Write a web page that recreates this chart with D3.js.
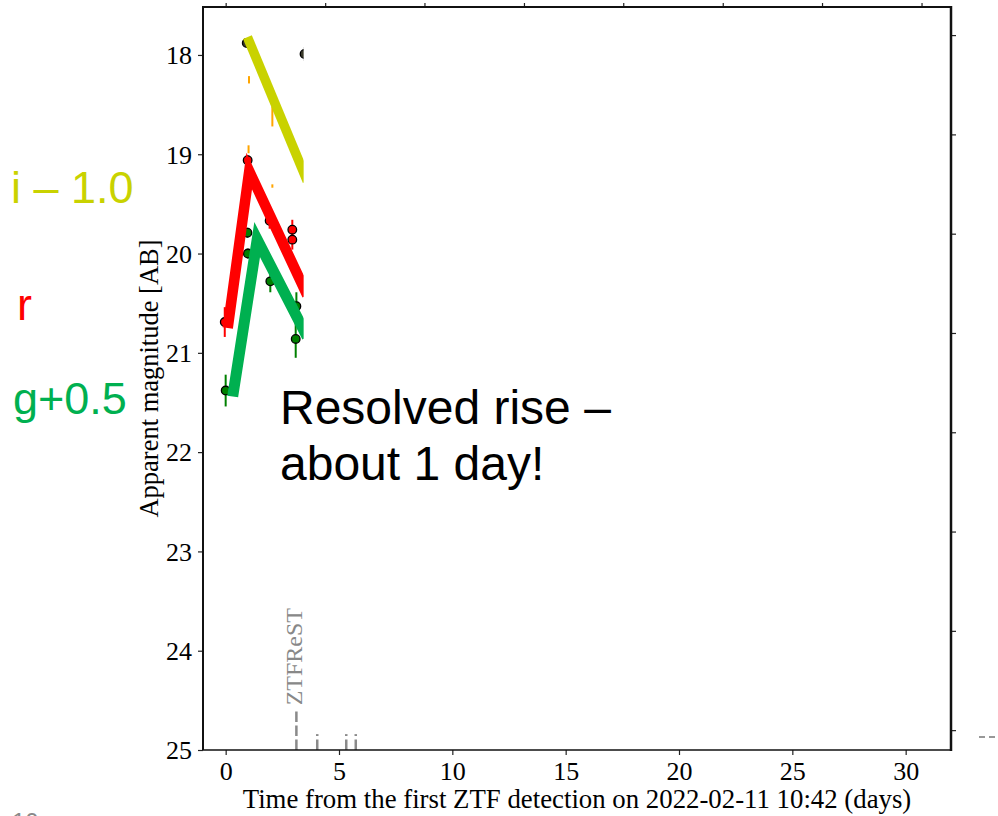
<!DOCTYPE html>
<html>
<head>
<meta charset="utf-8">
<script src="https://cdn.jsdelivr.net/npm/d3@7"></script>
<style>
  html, body { margin: 0; padding: 0; background: #fff; }
  svg { display: block; }
</style>
</head>
<body>
<svg id="chart" width="998" height="816"></svg>
<script>
// ZTF photometry: days since first detection, AB magnitude, 1-sigma error
const gDays = [0.00, 0.96, 0.98, 1.97, 3.12, 3.09];
const gMags = [21.38, 19.79, 20.00, 20.28, 20.53, 20.86];
const gErrs = [0.16, 0.05, 0.05, 0.11, 0.14, 0.19];

const rDays = [-0.04, 0.97, 1.94, 2.94, 2.94, 3.50];
const rMags = [20.69, 19.06, 19.67, 19.76, 19.86, 20.27];
const rErrs = [0.15, 0.05, 0.08, 0.10, 0.10, 0.08];

const iDays = [0.93, 3.48];
const iMags = [17.88, 17.99];
const iErrs = [0.03, 0.07];

// error bars drawn without markers
const oDays = [1.03, 2.06, 1.01, 2.06];
const oMags = [18.25, 18.62, 18.95, 19.32];
const oErrs = [0.037, 0.10, 0.04, 0.017];

// hand-drawn rise / decline guides
const iGuideDays = [0.96, 3.60];
const iGuideMags = [17.82, 19.27];
const rGuideDays = [0.09, 1.04, 3.60];
const rGuideMags = [20.75, 19.17, 20.42];
const gGuideDays = [0.31, 1.39, 3.60];
const gGuideMags = [21.44, 19.86, 20.84];

// follow-up epochs
const epochDays = [3.12, 4.04, 5.32, 5.74];
const epochLabels = ["ZTFReST", "", "", ""];

// axes
const xTicks = [0, 5, 10, 15, 20, 25, 30];
const yTicks = [18, 19, 20, 21, 22, 23, 24, 25];
const topTicks = [0, 4.39, 8.77, 13.16, 17.54, 21.93, 26.31, 30.70];
const rightTicks = [17.8, 18.8, 19.8, 20.8, 21.8, 22.8, 23.8, 24.8];

const COL_I = "#c9d200", COL_R = "#ff0000", COL_G = "#00b050";
const SERIF = "'Liberation Serif', 'Times New Roman', serif";
const SANS = "'Liberation Sans', Arial, sans-serif";

const svg = d3.select("#chart");
const L = 203, R = 951, T = 7, B = 750;

const x = d3.scaleLinear().domain([-1, 32]).range([L, R]);
const y = d3.scaleLinear().domain([17.517, 25]).range([T, B]);

// tick axes
const axL = svg.append("g").attr("transform", `translate(${L},0)`)
  .call(d3.axisLeft(y).tickValues(yTicks).tickSize(5).tickSizeOuter(0).tickPadding(6));
const axB = svg.append("g").attr("transform", `translate(0,${B})`)
  .call(d3.axisBottom(x).tickValues(xTicks).tickSize(5).tickSizeOuter(0).tickPadding(4));
const axT = svg.append("g").attr("transform", `translate(0,${T})`)
  .call(d3.axisTop(x).tickValues(topTicks).tickFormat("").tickSize(4).tickSizeOuter(0));
const axR = svg.append("g").attr("transform", `translate(${R},0)`)
  .call(d3.axisRight(y).tickValues(rightTicks).tickFormat("").tickSize(5).tickSizeOuter(0));
[axL, axB, axT, axR].forEach(a => {
  a.select(".domain").remove();
  a.selectAll(".tick line").attr("stroke", "#222").attr("stroke-width", 1.2);
  a.selectAll("text").attr("font-family", SERIF).attr("font-size", 26).attr("fill", "#000");
});
axB.selectAll("text").attr("dy", "0.8em");
axL.selectAll("text").attr("dy", "0.34em");

// error bars and points
function errorBars(days, mags, errs, color, width) {
  svg.append("g").selectAll("line").data(days).join("line")
    .attr("x1", d => x(d)).attr("x2", d => x(d))
    .attr("y1", (d, i) => y(mags[i] - errs[i]))
    .attr("y2", (d, i) => y(mags[i] + errs[i]))
    .attr("stroke", color).attr("stroke-width", width);
}
function points(days, mags, fill) {
  svg.append("g").selectAll("circle").data(days).join("circle")
    .attr("cx", d => x(d)).attr("cy", (d, i) => y(mags[i]))
    .attr("r", 4.3).attr("fill", fill)
    .attr("stroke", "#000").attr("stroke-width", 1.3);
}
errorBars(oDays, oMags, oErrs, "#ffa500", 2);
errorBars(gDays, gMags, gErrs, "#008000", 2);
errorBars(rDays, rMags, rErrs, "#ff0000", 2);
errorBars(iDays, iMags, iErrs, "#333", 1.5);
points(gDays, gMags, "#008000");
points(rDays, rMags, "#ff0000");
points(iDays, iMags, "#3a3a2a");

// guide lines
function guide(days, mags, color, width) {
  svg.append("path")
    .datum(days.map((d, i) => [d, mags[i]]))
    .attr("d", d3.line().x(p => x(p[0])).y(p => y(p[1])))
    .attr("fill", "none").attr("stroke", color).attr("stroke-width", width)
    .attr("stroke-linejoin", "miter").attr("stroke-miterlimit", 6)
    .attr("stroke-linecap", "butt");
}
guide(iGuideDays, iGuideMags, COL_I, 9.5);
guide(rGuideDays, rGuideMags, COL_R, 10.5);
guide(gGuideDays, gGuideMags, COL_G, 11);

// epoch markers
svg.append("g").selectAll("line").data(epochDays).join("line")
  .attr("x1", d => x(d)).attr("x2", d => x(d))
  .attr("y1", y(25)).attr("y2", y(24.58))
  .attr("stroke", "#8a8a8a").attr("stroke-width", 2.5)
  .attr("stroke-dasharray", "10.5,3.5");

// panel cover: the later part of the light curve is blanked out
svg.append("rect")
  .attr("x", x(3.44)).attr("y", T + 2)
  .attr("width", R - 2 - x(3.44)).attr("height", y(24.84) - T - 2)
  .attr("fill", "#fff");

svg.append("g").selectAll("text").data(epochDays.filter((d, i) => epochLabels[i])).join("text")
  .attr("transform", d => `translate(${x(d) + 6},${y(24.55)}) rotate(-90)`)
  .attr("font-family", SERIF).attr("font-size", 24).attr("fill", "#888")
  .text(d => epochLabels[epochDays.indexOf(d)]);

// frame
const frame = svg.append("g").attr("stroke", "#111").attr("fill", "none");
frame.append("line").attr("x1", L).attr("x2", L).attr("y1", T - 1).attr("y2", B).attr("stroke-width", 2);
frame.append("line").attr("x1", L).attr("x2", R).attr("y1", T).attr("y2", T).attr("stroke-width", 2);
frame.append("line").attr("x1", L).attr("x2", R + 1).attr("y1", B).attr("y2", B).attr("stroke-width", 1.5);
frame.append("line").attr("x1", R).attr("x2", R).attr("y1", T - 1).attr("y2", B + 1).attr("stroke-width", 2.5);
svg.append("line").attr("x1", 979).attr("x2", 996).attr("y1", 737).attr("y2", 737)
  .attr("stroke", "#333").attr("stroke-width", 1.2).attr("stroke-dasharray", "6,4");

// axis titles
svg.append("text")
  .attr("x", (L + R) / 2).attr("y", 808).attr("text-anchor", "middle")
  .attr("font-family", SERIF).attr("font-size", 26.8)
  .text("Time from the first ZTF detection on 2022-02-11 10:42 (days)");
svg.append("text")
  .attr("transform", `translate(158,${(T + B) / 2}) rotate(-90)`)
  .attr("text-anchor", "middle")
  .attr("font-family", SERIF).attr("font-size", 26.5)
  .text("Apparent magnitude [AB]");

// band labels
const bandLabels = [
  { t: "i \u2013 1.0", c: COL_I, x: 11, y: 203 },
  { t: "r", c: COL_R, x: 17, y: 320 },
  { t: "g+0.5", c: COL_G, x: 13, y: 414 }
];
svg.append("g").selectAll("text").data(bandLabels).join("text")
  .attr("x", d => d.x).attr("y", d => d.y)
  .attr("font-family", SANS).attr("font-size", 45).attr("fill", d => d.c)
  .text(d => d.t);

// annotation
const note = svg.append("text").attr("font-family", SANS).attr("font-size", 48).attr("fill", "#000");
note.append("tspan").attr("x", 280).attr("y", 424).text("Resolved rise \u2013");
note.append("tspan").attr("x", 280).attr("y", 480).text("about 1 day!");

// page number
svg.append("text").attr("x", 12).attr("y", 830)
  .attr("font-family", SANS).attr("font-size", 24).attr("fill", "#898989").text("10");
</script>
</body>
</html>
